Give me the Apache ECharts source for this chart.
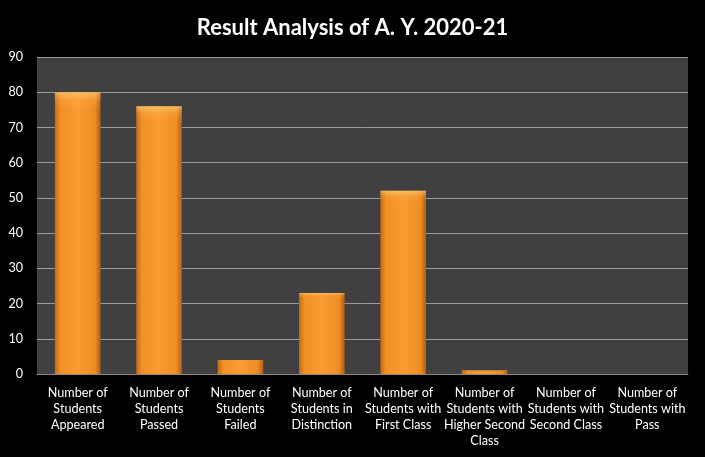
<!DOCTYPE html>
<html><head><meta charset="utf-8">
<script src="https://cdn.jsdelivr.net/npm/echarts@6/dist/echarts.min.js"></script>
<style>html,body{margin:0;padding:0;background:#000}#c{width:705px;height:457px}</style>
</head><body><div id="c"></div>
<script>
const titleText = 'Result Analysis of A. Y. 2020-21';
const categories = [
  'Number of\nStudents\nAppeared',
  'Number of\nStudents\nPassed',
  'Number of\nStudents\nFailed',
  'Number of\nStudents in\nDistinction',
  'Number of\nStudents with\nFirst Class',
  'Number of\nStudents with\nHigher Second\nClass',
  'Number of\nStudents with\nSecond Class',
  'Number of\nStudents with\nPass'
];
const values = [80, 76, 4, 23, 52, 1, 0, 0];

const chart = echarts.init(document.getElementById('c'));
chart.setOption({
  backgroundColor: '#000',
  animation: false,
  title: {
    text: titleText, left: 'center', top: 12,
    textStyle: {color: '#fff', fontFamily: 'Lato', fontWeight: 'bold', fontSize: 22}
  },
  grid: {left: 37, right: 17, top: 57, bottom: 83, show: true, backgroundColor: '#404040', borderWidth: 0},
  xAxis: {
    type: 'category', data: categories,
    axisLine: {lineStyle: {color: '#8c8c8c'}},
    axisTick: {show: false},
    axisLabel: {color: '#fff', fontFamily: 'Lato', fontSize: 12.6, lineHeight: 16, margin: 11, interval: 0}
  },
  yAxis: {
    type: 'value', min: 0, max: 90, interval: 10,
    axisLine: {show: false}, axisTick: {show: false},
    splitLine: {lineStyle: {color: '#9a9a9a', width: 1}},
    axisLabel: {color: '#fff', fontFamily: 'Lato', fontSize: 12.6, margin: 14}
  },
  series: [{
    type: 'bar', data: values, barWidth: '56%',
    itemStyle: {
      color: new echarts.graphic.LinearGradient(0, 0, 1, 0, [
        {offset: 0, color: '#c46a16'},
        {offset: 0.12, color: '#f08f25'},
        {offset: 0.5, color: '#f99d33'},
        {offset: 0.88, color: '#ee8c24'},
        {offset: 1, color: '#b55f12'}
      ])
    }
  }, {
    type: 'bar', data: values, barWidth: '56%', barGap: '-100%', silent: true,
    itemStyle: {
      color: new echarts.graphic.LinearGradient(0, 0, 0, 1, [
        {offset: 0, color: 'rgba(255,220,140,0.55)'},
        {offset: 0.03, color: 'rgba(255,200,110,0.15)'},
        {offset: 0.06, color: 'rgba(255,200,110,0)'},
        {offset: 1, color: 'rgba(0,0,0,0)'}
      ], false)
    }
  }]
});
</script></body></html>
